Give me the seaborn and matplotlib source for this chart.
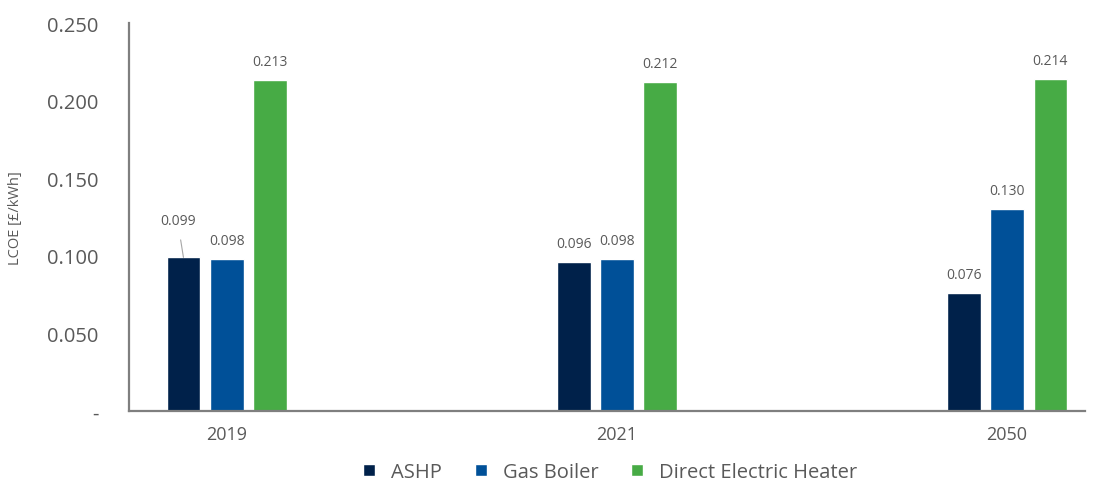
import pandas as pd
import matplotlib
matplotlib.use("Agg")
import matplotlib.pyplot as plt
import seaborn as sns

# ── DATA ────────────────────────────────────────────────────────────
years = ["2019", "2021", "2050"]
techs = ["ASHP", "Gas Boiler", "Direct Electric Heater"]
ashp = [0.099, 0.096, 0.076]
gas_boiler = [0.098, 0.098, 0.130]
direct_electric = [0.213, 0.212, 0.214]
colors = ["#00214A", "#005098", "#47AB45"]

df = pd.DataFrame({
    "year": years * 3,
    "tech": [techs[0]] * 3 + [techs[1]] * 3 + [techs[2]] * 3,
    "lcoe": ashp + gas_boiler + direct_electric,
})

# ── STYLE ───────────────────────────────────────────────────────────
sns.set_style("white")
plt.rcParams["font.family"] = ["Open Sans", "DejaVu Sans"]
grey = "#595959"

fig = plt.figure(figsize=(10.95, 4.85), dpi=100)
ax = fig.add_axes([0.118, 0.1505, 0.873, 0.80])

sns.barplot(data=df, x="year", y="lcoe", hue="tech", order=years,
            hue_order=techs, palette=colors, width=0.333, gap=0.22,
            saturation=1, ax=ax, legend=True)

ax.set_xlim(-0.25, 2.2)
ax.set_ylim(0, 0.25)
ax.set_yticks([0, 0.05, 0.10, 0.15, 0.20, 0.25])
ax.set_yticklabels(["-", "0.050", "0.100", "0.150", "0.200", "0.250"],
                   fontsize=14.5, color=grey)
ax.tick_params(axis="x", labelsize=13, colors=grey, length=0, pad=10)
ax.tick_params(axis="y", length=0, pad=22)
ax.set_xlabel("")
ax.set_ylabel("LCOE [£/kWh]", fontsize=10.5, color=grey)
ax.yaxis.set_label_coords(-0.111, 0.5)

for side in ["top", "right"]:
    ax.spines[side].set_visible(False)
for side in ["left", "bottom"]:
    ax.spines[side].set_color("#7F7F7F")
    ax.spines[side].set_linewidth(1.6)

# data labels
for cont in ax.containers:
    for bar in cont:
        h = bar.get_height()
        cx = bar.get_x() + bar.get_width() / 2
        if abs(h - 0.099) < 1e-9:
            ax.annotate(f"{h:.3f}", xy=(cx, h), xytext=(cx - 0.015, h + 0.0235),
                        ha="center", va="center", fontsize=10, color=grey,
                        arrowprops=dict(arrowstyle="-", color="#A6A6A6", lw=0.8,
                                        shrinkA=6, shrinkB=0))
        else:
            ax.text(cx, h + 0.0072, f"{h:.3f}", ha="center", va="bottom",
                    fontsize=10, color=grey)

leg = ax.legend(loc="upper center", bbox_to_anchor=(0.503, -0.085), ncol=3,
                frameon=False, fontsize=14.5, handlelength=0.6, handleheight=0.6,
                columnspacing=1.6, handletextpad=0.8)
for t in leg.get_texts():
    t.set_color(grey)

fig.savefig("out.png", dpi=100)
